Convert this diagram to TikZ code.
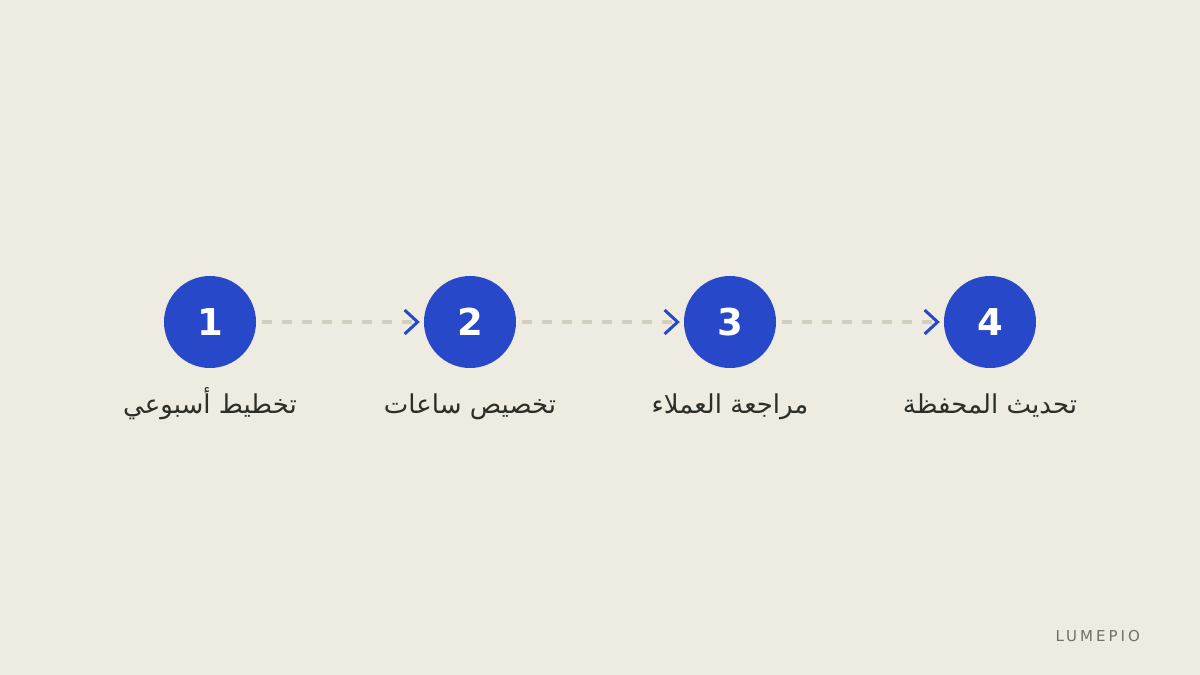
\documentclass[tikz,border=0pt]{standalone}
\usepackage{fontspec}
\setmainfont{DejaVu Sans}
\newfontfamily\arabicfont[Script=Arabic]{DejaVu Sans}
\newfontfamily\brandfont[LetterSpace=20]{DejaVu Sans}
\TeXXeTstate=1
\usetikzlibrary{arrows.meta}
\definecolor{bgc}{HTML}{EEEBE0}
\definecolor{stepblue}{HTML}{2748C8}
\definecolor{dashc}{HTML}{D3CEBE}
\definecolor{labc}{HTML}{2B2F2A}
\definecolor{brandc}{HTML}{6F7367}
\begin{document}
\begin{tikzpicture}[x=1pt,y=1pt,
  stepcircle/.style={circle,fill=stepblue,minimum size=92pt,inner sep=0pt,text=white,font=\fontsize{37}{40}\selectfont\bfseries},
  steplabel/.style={anchor=base,text=labc,font=\arabicfont\fontsize{26}{30}\selectfont,inner sep=0pt},
  link/.style={draw=dashc,line width=4pt,dash pattern=on 10pt off 10pt,shorten <=6pt,shorten >=4pt,
    -{Straight Barb[length=13pt,width=24pt,line width=3pt,color=stepblue]}}
]
\fill[bgc] (0,0) rectangle (1200,675);
\useasboundingbox (0,0) rectangle (1200,675);
\node[stepcircle] (c1) at (210,353) {1};
\node[stepcircle] (c2) at (470,353) {2};
\node[stepcircle] (c3) at (730,353) {3};
\node[stepcircle] (c4) at (990,353) {4};
\draw[link] (c1) -- (c2);
\draw[link] (c2) -- (c3);
\draw[link] (c3) -- (c4);
\node[steplabel] (l1) at (210,261) {\beginR تخطيط أسبوعي\endR};
\node[steplabel] (l2) at (470,261) {\beginR تخصيص ساعات\endR};
\node[steplabel] (l3) at (730,261) {\beginR مراجعة العملاء\endR};
\node[steplabel] (l4) at (990,261) {\beginR تحديث المحفظة\endR};
\node[anchor=base east,inner sep=0pt,text=brandc,font=\brandfont\fontsize{15}{18}\selectfont] (brand) at (1140,33) {LUMEPIO};
\end{tikzpicture}
\end{document}
